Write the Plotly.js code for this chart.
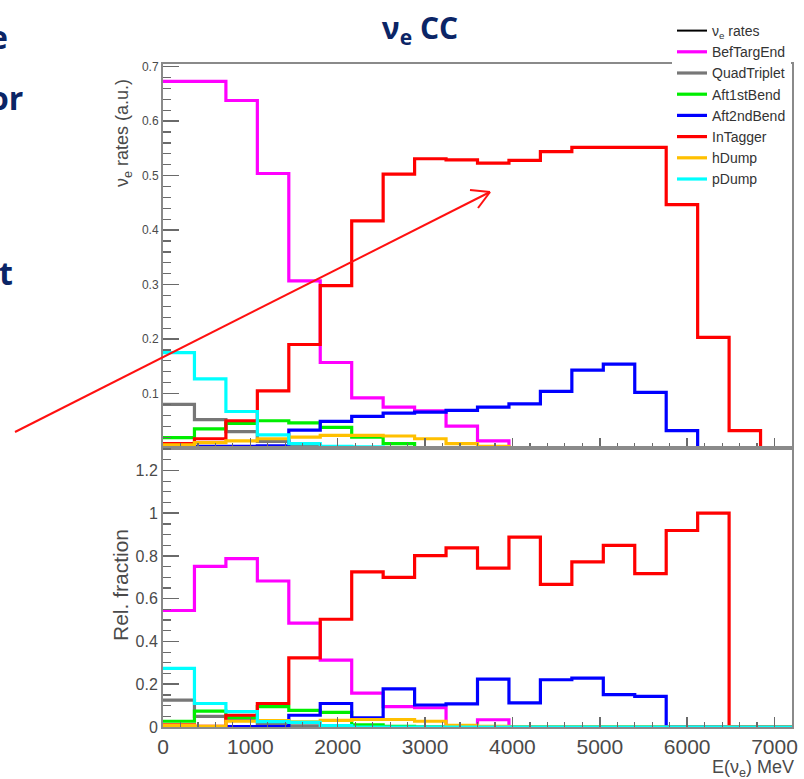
<!DOCTYPE html>
<html>
<head>
<meta charset="utf-8">
<script src="https://cdn.plot.ly/plotly-3.0.1.min.js"></script>
<style>html,body{margin:0;padding:0;background:#fff;}#chart{width:804px;height:779px;}</style>
</head>
<body>
<div id="chart"></div>
<script>
// ---- Data (bin width 360 MeV, 20 bins from 0 to 7200 MeV) ----
const binLow = [0,360,720,1080,1440,1800,2160,2520,2880,3240,3600,3960,4320,4680,5040,5400,5760,6120,6480,6840];
const binHigh = 7200;

const seriesNames = ["ν<sub>e</sub> rates","BefTargEnd","QuadTriplet","Aft1stBend","Aft2ndBend","InTagger","hDump","pDump"];

// upper panel: nu_e rates (a.u.)
const befTargEndRate = [0.673,0.673,0.638,0.504,0.307,0.157,0.092,0.075,0.068,0.040,0.013,0,0,0,0,0,0,0,0,0];
const quadTripletRate = [0.080,0.052,0.030,0.012,0.004,0.002,0,0,0,0,0,0,0,0,0,0,0,0,0,0];
const aft1stBendRate = [0.019,0.035,0.045,0.050,0.046,0.038,0.020,0.008,0,0,0,0,0,0,0,0,0,0,0,0];
const aft2ndBendRate = [0,0.003,0.003,0.004,0.033,0.049,0.058,0.064,0.066,0.069,0.075,0.081,0.104,0.143,0.154,0.102,0.032,0,0,0];
const inTaggerRate = [0.008,0.017,0.050,0.105,0.190,0.298,0.417,0.503,0.531,0.529,0.523,0.528,0.544,0.552,0.552,0.552,0.447,0.203,0.032,0];
const hDumpRate = [0.006,0.010,0.013,0.017,0.020,0.023,0.023,0.022,0.017,0.008,0.003,0,0,0,0,0,0,0,0,0];
const pDumpRate = [0.175,0.127,0.067,0.024,0.008,0.003,0.002,0,0,0,0,0,0,0,0,0,0,0,0,0];

// lower panel: relative fraction
const befTargEndFrac = [0.545,0.751,0.788,0.683,0.486,0.313,0.158,0.095,0.090,0.006,0.034,0,0,0,0,0,0,0,0,0];
const quadTripletFrac = [0.126,0.050,0.031,0.016,0.005,0.003,0,0,0,0,0,0,0,0,0,0,0,0,0,0];
const aft1stBendFrac = [0.027,0.074,0.045,0.095,0.078,0.068,0.010,0.003,0,0,0,0,0,0,0,0,0,0,0,0];
const aft2ndBendFrac = [0,0,0.002,0.002,0.055,0.110,0.043,0.178,0.103,0.108,0.224,0.113,0.221,0.229,0.151,0.143,0,0,0,0];
const inTaggerFrac = [0.010,0.003,0.055,0.110,0.323,0.504,0.726,0.700,0.802,0.838,0.743,0.888,0.667,0.772,0.850,0.717,0.919,1.000,0,0];
const hDumpFrac = [0.008,0.003,0.027,0.030,0.024,0.031,0.035,0.035,0.027,0.008,0.003,0,0,0,0,0,0,0,0,0];
const pDumpFrac = [0.274,0.110,0.072,0.025,0.022,0.006,0,0,0,0,0,0,0,0,0,0,0,0,0,0];

const xTickVals = [0,1000,2000,3000,4000,5000,6000,7000];
const yTopTicks = [0.1,0.2,0.3,0.4,0.5,0.6,0.7];
const yBotTicks = [0,0.2,0.4,0.6,0.8,1,1.2];
const yBotTickText = ["0","0.2","0.4","0.6","0.8","1","1.2"];

// ---- Styles ----
const colors = ["#000000","#ff00ff","#777777","#00ee00","#0000ff","#ff0000","#ffc000","#00ffff"];
const W = 804, H = 779;
const px = v => v / W;
const py = v => 1 - v / H;

const stepX = binLow.concat([binHigh]);
function stepY(vals){ return vals.concat([vals[vals.length-1]]); }

const rates = [null, befTargEndRate, quadTripletRate, aft1stBendRate, aft2ndBendRate, inTaggerRate, hDumpRate, pDumpRate];
const fracs = [null, befTargEndFrac, quadTripletFrac, aft1stBendFrac, aft2ndBendFrac, inTaggerFrac, hDumpFrac, pDumpFrac];

const traces = [];
// legend-only entry for the total
traces.push({x:[null], y:[null], type:'scatter', mode:'lines', name:seriesNames[0],
  line:{color:colors[0], width:2}, xaxis:'x', yaxis:'y', showlegend:true, hoverinfo:'skip'});
for (let i = 1; i < seriesNames.length; i++) {
  traces.push({x:stepX, y:stepY(rates[i]), type:'scatter', mode:'lines', name:seriesNames[i],
    line:{color:colors[i], width:3.2, shape:'hv'}, xaxis:'x', yaxis:'y', showlegend:true, cliponaxis:true});
}
for (let i = 1; i < seriesNames.length; i++) {
  traces.push({x:stepX, y:stepY(fracs[i]), type:'scatter', mode:'lines', name:seriesNames[i],
    line:{color:colors[i], width:3.2, shape:'hv'}, xaxis:'x2', yaxis:'y2', showlegend:false});
}

const axisLine = '#8a8a8a', tickCol = '#6a6a6a', labCol = '#4a4a4a';
const font = 'Liberation Sans, Arial, sans-serif';
const xDom = [px(163), px(792)];
const topDom = [py(448), py(64)];
const botDom = [py(727), py(448)];

const layout = {
  width: W, height: H,
  margin: {l:0, r:0, t:0, b:0, autoexpand:false},
  paper_bgcolor: '#ffffff', plot_bgcolor: '#ffffff',
  showlegend: true,
  title: {text: 'ν<sub>e</sub> CC', x: px(420), y: py(28), xanchor:'center', yanchor:'middle',
    font: {family:'Open Sans, sans-serif', size:30, color:'#0b2566', weight:700}},
  xaxis: {domain: xDom, range:[0,7200], anchor:'y', showgrid:false, zeroline:false,
    showline:true, mirror:true, linecolor:axisLine, linewidth:2,
    ticks:'inside', ticklen:10, tickwidth:1.5, tickcolor:tickCol, tickmode:'array', tickvals:xTickVals,
    showticklabels:false,
    minor:{ticks:'inside', ticklen:5, tickwidth:1.2, tickcolor:tickCol, tickmode:'linear', tick0:0, dtick:200}},
  yaxis: {domain: topDom, range:[0,0.705], anchor:'x', showgrid:false, zeroline:false,
    showline:true, mirror:true, linecolor:axisLine, linewidth:2,
    ticks:'inside', ticklen:16, tickwidth:1.5, tickcolor:tickCol, tickmode:'array', tickvals:yTopTicks,
    tickfont:{family:font, size:12, color:labCol},
    minor:{ticks:'inside', ticklen:8, tickwidth:1.2, tickcolor:tickCol, tickmode:'linear', tick0:0, dtick:0.02}},
  xaxis2: {domain: xDom, range:[0,7200], anchor:'y2', showgrid:false, zeroline:false,
    showline:true, mirror:true, linecolor:axisLine, linewidth:2,
    ticks:'inside', ticklen:10, tickwidth:1.5, tickcolor:tickCol, tickmode:'array', tickvals:xTickVals,
    tickfont:{family:font, size:21, color:labCol},
    minor:{ticks:'inside', ticklen:5, tickwidth:1.2, tickcolor:tickCol, tickmode:'linear', tick0:0, dtick:200}},
  yaxis2: {domain: botDom, range:[0,1.305], anchor:'x2', showgrid:false, zeroline:false,
    showline:true, mirror:true, linecolor:axisLine, linewidth:2,
    ticks:'inside', ticklen:16, tickwidth:1.5, tickcolor:tickCol, tickmode:'array', tickvals:yBotTicks, ticktext:yBotTickText,
    tickfont:{family:font, size:16, color:labCol},
    minor:{ticks:'inside', ticklen:8, tickwidth:1.2, tickcolor:tickCol, tickmode:'linear', tick0:0, dtick:0.05}},
  legend: {x: px(672), y: py(15), xanchor:'left', yanchor:'top', bgcolor:'#ffffff', borderwidth:0,
    font:{family:font, size:14, color:'#333333'}, itemwidth:30, tracegroupgap:0},
  annotations: [
    {text:'ν<sub>e</sub> rates (a.u.)', xref:'paper', yref:'paper', x:px(123), y:py(133), textangle:-90,
      showarrow:false, xanchor:'center', yanchor:'middle', font:{family:font, size:18, color:labCol}},
    {text:'Rel. fraction', xref:'paper', yref:'paper', x:px(120), y:py(585), textangle:-90,
      showarrow:false, xanchor:'center', yanchor:'middle', font:{family:font, size:21, color:labCol}},
    {text:'E(ν<sub>e</sub>) MeV', xref:'paper', yref:'paper', x:px(796), y:py(768),
      showarrow:false, xanchor:'right', yanchor:'middle', font:{family:font, size:18, color:labCol}},
    {text:'<b>e</b>', xref:'paper', yref:'paper', x:px(10), y:py(36), showarrow:false, xanchor:'right', yanchor:'middle',
      font:{family:'Open Sans, sans-serif', size:32, color:'#0b2566'}},
    {text:'<b>or</b>', xref:'paper', yref:'paper', x:px(25), y:py(97), showarrow:false, xanchor:'right', yanchor:'middle',
      font:{family:'Open Sans, sans-serif', size:32, color:'#0b2566'}},
    {text:'<b>t</b>', xref:'paper', yref:'paper', x:px(15), y:py(272), showarrow:false, xanchor:'right', yanchor:'middle',
      font:{family:'Open Sans, sans-serif', size:32, color:'#0b2566'}}
  ],
  shapes: [
    {type:'line', xref:'paper', yref:'paper', x0:px(15), y0:py(432), x1:px(490), y1:py(192), line:{color:'#ff1010', width:2}},
    {type:'line', xref:'paper', yref:'paper', x0:px(490), y0:py(192), x1:px(470), y1:py(190), line:{color:'#ff1010', width:2}},
    {type:'line', xref:'paper', yref:'paper', x0:px(490), y0:py(192), x1:px(478), y1:py(208), line:{color:'#ff1010', width:2}}
  ]
};

Plotly.newPlot('chart', traces, layout, {displayModeBar:false, staticPlot:true});
</script>
</body>
</html>
